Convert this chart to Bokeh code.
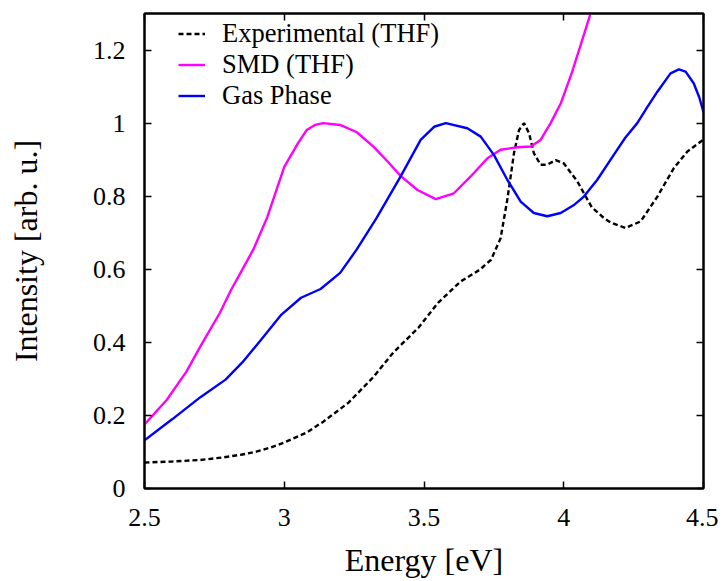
from bokeh.plotting import figure
from bokeh.models import LinearAxis, Range1d, FixedTicker, Legend, LegendItem
from bokeh.embed import file_html
from bokeh.resources import INLINE

# Experimental (THF)
exp_x = [2.5, 2.6, 2.7, 2.78, 2.85, 2.9, 2.95, 3.0, 3.08, 3.14, 3.23, 3.32, 3.39, 3.48, 3.55,
         3.63, 3.7, 3.74, 3.774, 3.798, 3.822, 3.84, 3.858, 3.876, 3.893, 3.917, 3.941, 3.971,
         4.0, 4.049, 4.1, 4.144, 4.168, 4.221, 4.275, 4.335, 4.394, 4.442, 4.5]
exp_y = [0.071, 0.074, 0.078, 0.085, 0.093, 0.101, 0.112, 0.126, 0.153, 0.183, 0.235, 0.306,
         0.372, 0.44, 0.508, 0.566, 0.599, 0.626, 0.685, 0.79, 0.918, 0.981, 1.0, 0.972, 0.918,
         0.886, 0.886, 0.899, 0.89, 0.84, 0.77, 0.74, 0.728, 0.713, 0.731, 0.799, 0.877, 0.922,
         0.955]

# SMD (THF)
smd_x = [2.5, 2.58, 2.65, 2.7, 2.77, 2.81, 2.85, 2.89, 2.94, 3.0, 3.05, 3.08, 3.11, 3.14, 3.2,
         3.26, 3.32, 3.37, 3.417, 3.477, 3.542, 3.607, 3.667, 3.727, 3.774, 3.834, 3.882,
         3.917, 3.953, 3.99, 4.03, 4.066, 4.1, 4.14]
smd_y = [0.175, 0.243, 0.32, 0.389, 0.481, 0.544, 0.599, 0.655, 0.744, 0.88, 0.946, 0.981,
         0.995, 1.0, 0.995, 0.975, 0.935, 0.895, 0.855, 0.817, 0.792, 0.808, 0.854, 0.904,
         0.927, 0.934, 0.936, 0.954, 1.0, 1.055, 1.14, 1.227, 1.31, 1.42]

# Gas Phase
gas_x = [2.5, 2.6, 2.7, 2.79, 2.85, 2.92, 2.99, 3.06, 3.13, 3.2, 3.26, 3.33, 3.417, 3.488,
         3.536, 3.578, 3.655, 3.703, 3.75, 3.798, 3.846, 3.893, 3.941, 3.989, 4.035, 4.072,
         4.12, 4.179, 4.22, 4.263, 4.3, 4.335, 4.382, 4.412, 4.436, 4.465, 4.485, 4.5]
gas_y = [0.132, 0.19, 0.25, 0.298, 0.345, 0.41, 0.476, 0.522, 0.546, 0.59, 0.655, 0.74, 0.855,
         0.954, 0.99, 1.0, 0.986, 0.963, 0.913, 0.845, 0.785, 0.754, 0.745, 0.754, 0.775,
         0.799, 0.845, 0.913, 0.96, 1.0, 1.045, 1.086, 1.136, 1.147, 1.141, 1.109, 1.07, 1.03]

x_ticks = [2.5, 3.0, 3.5, 4.0, 4.5]
x_labels = {2.5: "2.5", 3.0: "3", 3.5: "3.5", 4.0: "4", 4.5: "4.5"}
y_ticks = [0.0, 0.2, 0.4, 0.6, 0.8, 1.0, 1.2]
y_labels = {0.0: "0", 0.2: "0.2", 0.4: "0.4", 0.6: "0.6", 0.8: "0.8", 1.0: "1", 1.2: "1.2"}

FONT = "Liberation Serif"

p = figure(width=718, height=580, output_backend="svg", toolbar_location=None,
           x_range=Range1d(2.5, 4.5), y_range=Range1d(0, 1.3),
           min_border_left=144, min_border_right=15, min_border_top=13, min_border_bottom=91)
p.grid.visible = False
p.outline_line_color = "black"
p.outline_line_width = 2
p.background_fill_color = "white"
p.border_fill_color = "white"

l_exp = p.line(exp_x, exp_y, line_color="black", line_width=2.4, line_dash="5 3")
l_smd = p.line(smd_x, smd_y, line_color="#ff00ff", line_width=2.4)
l_gas = p.line(gas_x, gas_y, line_color="#0000ff", line_width=2.4)

def style_axis(ax, show_labels, label_size="32px"):
    ax.axis_line_color = "black"
    ax.axis_line_width = 2
    ax.major_tick_in = 7
    ax.major_tick_out = 0
    ax.major_tick_line_width = 1.5
    ax.minor_tick_line_color = None
    ax.major_label_text_font = FONT
    ax.major_label_text_font_size = "26px"
    ax.major_label_text_color = "black"
    ax.axis_label_text_font = FONT
    ax.axis_label_text_font_size = label_size
    ax.axis_label_text_font_style = "normal"
    ax.axis_label_text_color = "black"
    if not show_labels:
        ax.major_label_text_color = None

xa = p.xaxis[0]
xa.ticker = FixedTicker(ticks=x_ticks)
xa.major_label_overrides = x_labels
xa.axis_label = "Energy [eV]"
xa.major_label_standoff = 20
xa.axis_label_standoff = 13
style_axis(xa, True, "32px")

ya = p.yaxis[0]
ya.ticker = FixedTicker(ticks=y_ticks)
ya.major_label_overrides = y_labels
ya.axis_label = "Intensity [arb. u.]"
ya.major_label_standoff = 19
ya.axis_label_standoff = 46
style_axis(ya, True, "32px")

top = LinearAxis(ticker=FixedTicker(ticks=x_ticks))
style_axis(top, False)
p.add_layout(top, "above")
right = LinearAxis(ticker=FixedTicker(ticks=y_ticks))
style_axis(right, False)
p.add_layout(right, "right")

legend = Legend(items=[LegendItem(label="Experimental (THF)", renderers=[l_exp]),
                       LegendItem(label="SMD (THF)", renderers=[l_smd]),
                       LegendItem(label="Gas Phase", renderers=[l_gas])],
                location=(34, 377))
legend.border_line_color = None
legend.background_fill_alpha = 0
legend.padding = 0
legend.margin = 0
legend.spacing = 0
legend.glyph_width = 27
legend.glyph_height = 29
legend.label_height = 29
legend.label_standoff = 17
legend.label_text_font = FONT
legend.label_text_font_size = "26.5px"
legend.label_text_color = "black"
p.add_layout(legend, "center")

open("out.html", "w").write(file_html(p, INLINE))
